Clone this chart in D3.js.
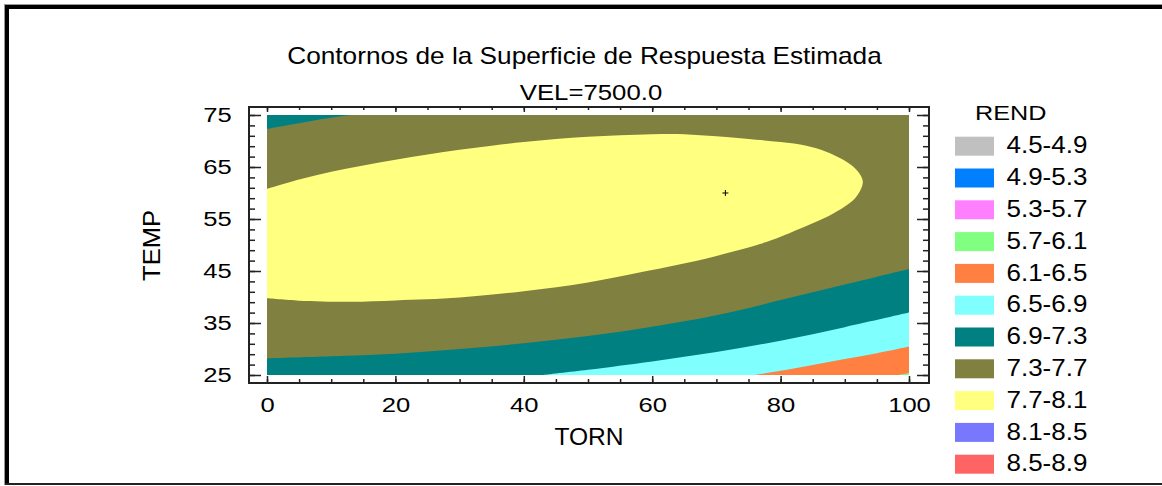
<!DOCTYPE html>
<html>
<head>
<meta charset="utf-8">
<script src="https://cdn.jsdelivr.net/npm/d3@7"></script>
<style>
  body { margin: 0; background: #fff; }
  svg { display: block; }
  text { font-family: "Liberation Sans", Arial, sans-serif; fill: #000; }
</style>
</head>
<body>
<svg id="chart" width="1162" height="486"></svg>
<script>
// Contour boundaries of the fitted REND surface at VEL = 7500 (TORN, TEMP pairs)
const torn7_3hi = [0, 4, 8, 13];
const temp7_3hi = [72.3, 73.2, 74.1, 75];

const torn7_7 = [0, 5, 10, 15, 20, 25, 30, 35, 40, 45, 50, 55, 60, 65, 70, 75, 80, 84, 87, 89.3, 91, 92.2, 92.8,
                 92.5, 91.6, 90, 87.5, 85, 82.5, 80, 76.8, 70, 64, 58, 50, 40, 30, 20, 13, 5, 0];
const temp7_7 = [60.8, 62.6, 64.1, 65.3, 66.4, 67.4, 68.3, 69.1, 69.8, 70.4, 70.8, 71.1, 71.3, 71.3, 70.9, 70.4, 69.8, 69.1, 68.0, 66.7, 65.4, 63.9, 62.3,
                 60.7, 59.0, 57.4, 55.6, 54.2, 52.9, 51.6, 50.2, 47.9, 46.2, 44.7, 42.8, 41.1, 39.9, 39.35, 39.1, 39.3, 39.75];

const torn7_3lo = [0, 10, 20, 30, 40, 50, 60, 70, 80, 90, 100];
const temp7_3lo = [28.2, 28.6, 29.1, 30.0, 31.1, 32.5, 34.3, 36.5, 39.4, 42.4, 45.4];

const torn6_9 = [43, 50, 60, 70, 80, 90, 100];
const temp6_9 = [25, 26.0, 27.6, 29.4, 31.6, 34.2, 37.0];

const torn6_5 = [76, 80, 85, 90, 95, 100];
const temp6_5 = [25, 25.8, 26.9, 28.1, 29.2, 30.5];

const torn6_1 = [98.4, 100];
const temp6_1 = [25, 25.4];

// Estimated optimum marker
const optTorn = [71.4];
const optTemp = [60.0];

// Legend classes
const legendLabels = ["4.5-4.9", "4.9-5.3", "5.3-5.7", "5.7-6.1", "6.1-6.5", "6.5-6.9",
                      "6.9-7.3", "7.3-7.7", "7.7-8.1", "8.1-8.5", "8.5-8.9"];
const legendColors = ["#c0c0c0", "#0080ff", "#ff80ff", "#80ff80", "#ff8040", "#80ffff",
                      "#008080", "#808040", "#ffff80", "#7878ff", "#ff6464"];

// Axis ticks
const xMajor = [0, 20, 40, 60, 80, 100];
const yMajor = [25, 35, 45, 55, 65, 75];

const color = d3.scaleOrdinal().domain(legendLabels).range(legendColors);
const zip = (a, b) => a.map((v, i) => [v, b[i]]);

const svg = d3.select("#chart");

const x = d3.scaleLinear().domain([0, 100]).range([267, 909]);
const y = d3.scaleLinear().domain([25, 75]).range([375, 115]);

// Outer frame
svg.append("rect").attr("x", 4).attr("y", 4).attr("width", 1158).attr("height", 1).attr("fill", "#999");
svg.append("rect").attr("x", 4).attr("y", 4).attr("width", 1).attr("height", 481).attr("fill", "#999");
svg.append("rect").attr("x", 5).attr("y", 5).attr("width", 1157).attr("height", 4).attr("fill", "#000");
svg.append("rect").attr("x", 5).attr("y", 5).attr("width", 4).attr("height", 480).attr("fill", "#000");
svg.append("rect").attr("x", 5).attr("y", 483).attr("width", 1157).attr("height", 2).attr("fill", "#222");

// Plot area
svg.append("clipPath").attr("id", "plotClip")
  .append("rect").attr("x", x(0)).attr("y", y(75))
  .attr("width", x(100) - x(0)).attr("height", y(25) - y(75));

const plot = svg.append("g").attr("clip-path", "url(#plotClip)");

plot.append("rect").attr("x", x(0)).attr("y", y(75))
  .attr("width", x(100) - x(0)).attr("height", y(25) - y(75))
  .attr("fill", color("7.3-7.7"));

const line = d3.line().x(d => x(d[0])).y(d => y(d[1])).curve(d3.curveCatmullRom);
const areaBelow = d3.area().x(d => x(d[0])).y0(y(25)).y1(d => y(d[1])).curve(d3.curveCatmullRom);
const areaAbove = d3.area().x(d => x(d[0])).y0(y(75)).y1(d => y(d[1])).curve(d3.curveCatmullRom);

plot.append("path").attr("d", areaAbove(zip(torn7_3hi, temp7_3hi))).attr("fill", color("6.9-7.3"));
plot.append("path").attr("d", line(zip(torn7_7, temp7_7)) + "Z").attr("fill", color("7.7-8.1"));
plot.append("path").attr("d", areaBelow(zip(torn7_3lo, temp7_3lo))).attr("fill", color("6.9-7.3"));
plot.append("path").attr("d", areaBelow(zip(torn6_9, temp6_9))).attr("fill", color("6.5-6.9"));
plot.append("path").attr("d", areaBelow(zip(torn6_5, temp6_5))).attr("fill", color("6.1-6.5"));
plot.append("path").attr("d", areaBelow(zip(torn6_1, temp6_1))).attr("fill", color("5.7-6.1"));

// Optimum marker
const opt = svg.append("g");
zip(optTorn, optTemp).forEach(([a, b]) => {
  opt.append("path")
    .attr("d", `M${x(a) - 3},${y(b)}H${x(a) + 3}M${x(a)},${y(b) - 3}V${y(b) + 3}`)
    .attr("stroke", "#000").attr("stroke-width", 1);
});

// Axes with inward ticks
const frameL = 249, frameR = 929, frameT = 107, frameB = 383;
const styleAxis = g => {
  g.select(".domain").remove();
  g.selectAll(".tick line").attr("stroke", "#222").attr("stroke-width", 1.5);
};

svg.append("g").attr("transform", `translate(0,${frameB})`)
  .call(d3.axisBottom(x).tickValues(d3.range(0, 101, 5)).tickSize(-4).tickFormat("")).call(styleAxis);
svg.append("g").attr("transform", `translate(0,${frameB})`)
  .call(d3.axisBottom(x).tickValues(xMajor).tickSize(-7).tickPadding(15)).call(styleAxis)
  .call(g => g.selectAll("text").attr("font-size", 20).attr("transform", "scale(1.28,1)"));

svg.append("g").attr("transform", `translate(0,${frameT})`)
  .call(d3.axisTop(x).tickValues(d3.range(0, 101, 5)).tickSize(-3).tickFormat("")).call(styleAxis);
svg.append("g").attr("transform", `translate(0,${frameT})`)
  .call(d3.axisTop(x).tickValues(xMajor).tickSize(-5).tickFormat("")).call(styleAxis);

svg.append("g").attr("transform", `translate(${frameL},0)`)
  .call(d3.axisLeft(y).tickValues(d3.range(25, 75.1, 2)).tickSize(-6).tickFormat("")).call(styleAxis);
svg.append("g").attr("transform", `translate(${frameL},0)`)
  .call(d3.axisLeft(y).tickValues(yMajor).tickSize(-12).tickPadding(13.5)).call(styleAxis)
  .call(g => g.selectAll("text").attr("font-size", 20).attr("transform", "scale(1.28,1)"));

svg.append("g").attr("transform", `translate(${frameR},0)`)
  .call(d3.axisRight(y).tickValues(d3.range(25, 75.1, 2)).tickSize(-6).tickFormat("")).call(styleAxis);
svg.append("g").attr("transform", `translate(${frameR},0)`)
  .call(d3.axisRight(y).tickValues(yMajor).tickSize(-12).tickFormat("")).call(styleAxis);

svg.append("rect").attr("x", frameL).attr("y", frameT)
  .attr("width", frameR - frameL).attr("height", frameB - frameT)
  .attr("fill", "none").attr("stroke", "#222").attr("stroke-width", 2);

// Titles
const label = (tx, ty, txt, size, sx, anchor, rot) => {
  svg.append("g").attr("transform", `translate(${tx},${ty})` + (rot ? ` rotate(${rot})` : ""))
    .append("text").attr("transform", `scale(${sx},1)`)
    .attr("text-anchor", anchor).attr("font-size", size).text(txt);
};
label(584.5, 63.5, "Contornos de la Superficie de Respuesta Estimada", 23, 1.14, "middle");
label(591, 100, "VEL=7500.0", 23, 1.12, "middle");
label(589, 445, "TORN", 23, 1.07, "middle");
label(160, 245.5, "TEMP", 23, 1.11, "middle", -90);

// Legend
label(975, 120, "REND", 21, 1.2, "start");
const legend = svg.append("g");
legendLabels.forEach((lab, i) => {
  const cy = 146.2 + i * 31.8;
  legend.append("rect").attr("x", 955).attr("y", cy - 9.5)
    .attr("width", 39).attr("height", 19).attr("fill", color(lab));
  label(1006.5, cy + 7.2, lab, 23, 1.13, "start");
});
</script>
</body>
</html>
